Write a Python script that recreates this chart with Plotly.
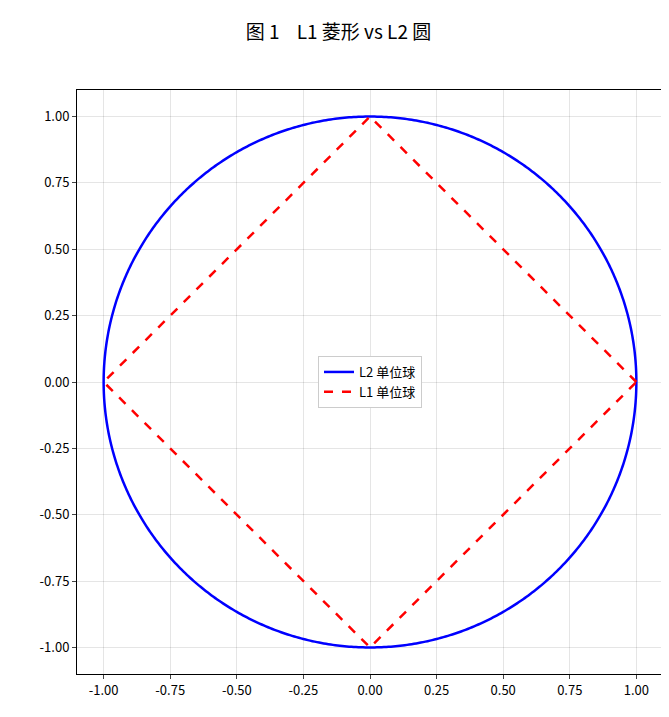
import numpy as np
import plotly.graph_objs as go

# L2 unit ball: circle of radius 1
radius = 1.0
theta = np.linspace(0, 2 * np.pi, 721)
l2_x = radius * np.cos(theta)
l2_y = radius * np.sin(theta)

# L1 unit ball: diamond corners
l1_x = [1, 0, -1, 0, 1]
l1_y = [0, 1, 0, -1, 0]

tick_vals = [-1.0, -0.75, -0.5, -0.25, 0.0, 0.25, 0.5, 0.75, 1.0]
tick_text = ['%.2f' % v for v in tick_vals]

fig = go.Figure()
fig.add_trace(go.Scatter(x=l2_x, y=l2_y, mode='lines', name='L2 单位球',
                         line=dict(color='blue', width=2.5, simplify=False)))
fig.add_trace(go.Scatter(x=l1_x, y=l1_y, mode='lines', name='L1 单位球',
                         line=dict(color='red', width=2.5, dash='dash')))

axis = dict(range=[-1.1, 1.1], tickvals=tick_vals, ticktext=tick_text,
            showgrid=True, gridcolor='rgba(0,0,0,0.1)', zeroline=False,
            showline=True, linecolor='black', mirror=True, ticks='outside',
            ticklen=4, tickfont=dict(size=13))

fig.update_layout(
    width=661, height=709,
    title=dict(text='图 1    L1 菱形 vs L2 圆', x=0.5, xanchor='center', y=0.975,
               font=dict(size=19, color='black')),
    font=dict(family='Noto Sans CJK SC', color='black'),
    plot_bgcolor='white', paper_bgcolor='white',
    margin=dict(l=69, r=6, t=82, b=43),
    xaxis=axis, yaxis=axis,
    legend=dict(x=0.5, y=0.5, xanchor='center', yanchor='middle',
                bordercolor='#cccccc', borderwidth=1, bgcolor='white',
                font=dict(size=13)),
)

fig.write_html("out.html")
